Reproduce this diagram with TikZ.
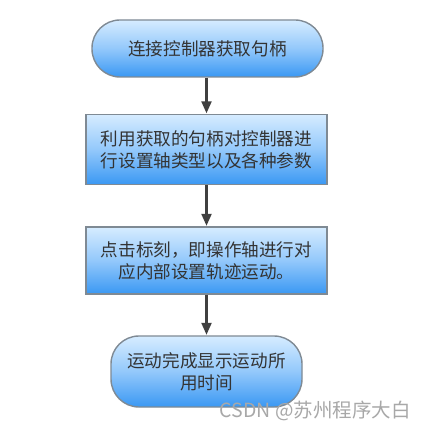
\documentclass[tikz,border=0pt]{standalone}
\usepackage{fontspec}
\newfontfamily\cjk{Noto Sans CJK SC}
\usetikzlibrary{arrows.meta}
\definecolor{boxtop}{HTML}{D6ECFF}
\definecolor{boxmid}{HTML}{93C8FB}
\definecolor{boxbot}{HTML}{3A98F3}
\definecolor{boxline}{HTML}{7F8A94}
\definecolor{txt}{HTML}{333333}
\definecolor{arrowc}{HTML}{404040}
\definecolor{wm}{HTML}{A8A8A8}
\tikzset{
  flowbox/.style={draw=boxline, line width=1.4pt, top color=boxtop, bottom color=boxbot, middle color=boxmid,
    text=txt, align=center, inner sep=0pt, font=\cjk\fontsize{17.6}{22}\selectfont},
  pill/.style={flowbox, rounded corners=28pt},
  flowarrow/.style={draw=arrowc, line width=2.2pt, -{Triangle[length=12pt,width=10pt]}, shorten >=0.5pt}
}
\begin{document}
\begin{tikzpicture}[x=1pt,y=-1pt]
\useasboundingbox (0,0) rectangle (425,430);
\fill[white] (0,0) rectangle (425,430);
\node[pill, minimum width=231pt, minimum height=57pt] (b1) at (207.5,48.5) {连接控制器获取句柄};
\node[flowbox, minimum width=241pt, minimum height=70pt] (b2) at (206.5,149.5) {利用获取的句柄对控制器进\\行设置轴类型以及各种参数};
\node[flowbox, minimum width=241pt, minimum height=67pt] (b3) at (206.5,260.5) {点击标刻，即操作轴进行对\\应内部设置轨迹运动。};
\node[pill, minimum width=191pt, minimum height=71pt] (b4) at (206.5,371.5) {运动完成显示运动所\\用时间};
\draw[flowarrow] (b1.south -| b2.north) -- (b2.north);
\draw[flowarrow] (b2.south) -- (b3.north);
\draw[flowarrow] (b3.south) -- (b4.north);
\node[text=wm, font=\cjk\fontsize{19.5}{21}\selectfont, anchor=east, inner sep=0pt] (wm) at (411,411) {CSDN @苏州程序大白};
\end{tikzpicture}
\end{document}
